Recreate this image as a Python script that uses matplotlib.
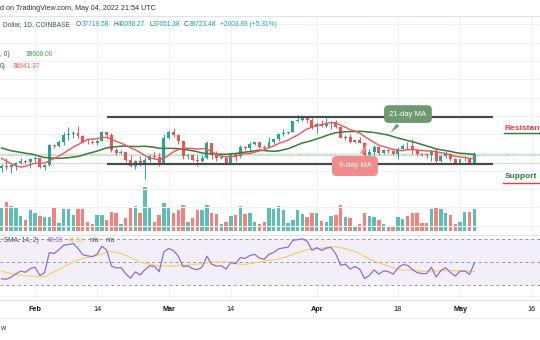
import numpy as np
import pandas as pd
import matplotlib
matplotlib.use("Agg")
import matplotlib.pyplot as plt

plt.rcParams['font.family'] = ['Liberation Sans', 'DejaVu Sans']

# closes Dec 13 .. Jan 24, only used to warm up the moving averages and RSI
warmup_close = [46700, 48340, 48860, 47630, 46130, 46830, 46680, 46880, 48930, 48600,
                50820, 50430, 50800, 50640, 50700, 47540, 46470, 47120, 46220, 47730,
                47310, 46460, 45900, 43570, 43150, 41560, 41730, 41880, 41830, 42740,
                43920, 42590, 43100, 43180, 43110, 42250, 42380, 41700, 40700, 36480,
                35060, 36290, 36690]

# daily candles Jan 25 .. May 4 2022
opens = [36690, 36950, 36820, 37170, 37700, 38150, 37900,
         38480, 38700, 36900, 37330, 41570, 41380, 42400, 43830, 44040, 44370, 43550, 42400, 42200, 42050,
         42550, 44560, 43900, 40550, 40000, 40100, 38400, 37000, 38250, 37300, 38350, 39230, 39100, 37700,
         43190, 44420, 43920, 42450, 39150, 39400, 38420, 38060, 38740, 41980, 39440, 38800, 38900, 37800,
         39670, 39300, 41140, 40950, 41800, 42200, 41280, 41000, 42370, 42900, 43990, 44330, 44520, 46820,
         47130, 47450, 47060,
         45540, 46280, 45810, 46400, 46580, 45500, 43170, 43440, 42250, 42750, 42160, 39530, 40070, 41150,
         39940, 40550, 40400, 39710, 40830, 41500, 41370, 40480, 39710, 39470, 39450, 40430, 38120, 39240,
         39740, 38600,
         37640, 38470, 38520, 37719.58]
highs = [37550, 38900, 37230, 38000, 38700, 38350, 38700,
         39250, 38850, 37400, 41750, 41930, 42650, 44500, 45500, 44800, 45820, 43900, 43050, 42750, 42850,
         44750, 44580, 44200, 40960, 40450, 40150, 39450, 38400, 39250, 38950, 39700, 40250, 39850, 44150,
         44950, 45400, 44100, 42500, 39600, 39650, 39520, 39350, 42600, 42050, 40250, 39350, 39300, 39900,
         39880, 41700, 41460, 42300, 42400, 42300, 41550, 43350, 43000, 44200, 45100, 44800, 46900, 48200,
         48100, 47700, 47600,
         46700, 47200, 47450, 46900, 47150, 45500, 43900, 43950, 42800, 43450, 42400, 40700, 41550, 41500,
         40850, 40700, 40600, 41150, 41750, 42200, 42980, 40800, 39990, 39950, 40600, 40800, 39450, 40350,
         39900, 38800,
         38650, 39150, 38650, 40038.27]
lows = [35700, 36250, 35500, 36200, 37400, 37400, 36650,
        38000, 36600, 36250, 37050, 40970, 41130, 41650, 42700, 43150, 43200, 42000, 41750, 41850, 41550,
        42450, 43330, 40150, 39500, 39650, 38000, 36800, 36380, 37050, 34300, 38000, 38600, 37050, 37450,
        42850, 43350, 41850, 38650, 38600, 38100, 37150, 37880, 38650, 38550, 38250, 38650, 37600, 37600,
        38150, 38900, 40550, 40200, 41550, 40950, 40500, 40900, 41900, 42600, 43650, 44100, 44450, 46650,
        46950, 46550, 45200,
        44250, 45650, 45550, 45150, 45400, 43100, 42750, 42150, 42150, 42000, 39200, 39250, 39550, 39550,
        39760, 40000, 39550, 38550, 40550, 40850, 39750, 39200, 39300, 38900, 38200, 37700, 37900, 38900,
        38200, 37600,
        37400, 38050, 37500, 37651.38]
closes = [36950, 36820, 37170, 37700, 38150, 37900, 38480,
          38700, 36900, 37330, 41570, 41380, 42400, 43830, 44040, 44370, 43550, 42400, 42200, 42050, 42550,
          44560, 43900, 40550, 40000, 40100, 38400, 37000, 38250, 37300, 38350, 39230, 39100, 37700, 43190,
          44420, 43920, 42450, 39150, 39400, 38420, 38060, 38740, 41980, 39440, 38800, 38900, 37800, 39670,
          39300, 41140, 40950, 41800, 42200, 41280, 41000, 42370, 42900, 43990, 44330, 44520, 46820, 47130,
          47450, 47060, 45540,
          46280, 45810, 46400, 46580, 45500, 43170, 43440, 42250, 42750, 42160, 39530, 40070, 41150, 39940,
          40550, 40400, 39710, 40830, 41500, 41370, 40480, 39710, 39470, 39450, 40430, 38120, 39240, 39740,
          38600, 37640,
          38470, 38520, 37719.59, 39723.48]
volumes = [23700, 29300, 25000, 23700, 15000, 11000, 21000, 17700, 15000, 14300,
           14300, 24300, 7700, 21700, 21700, 16000, 21700, 21700, 9300, 7000,
           16000, 16000, 11000, 19300, 18300, 7000, 12700, 23700, 25000, 17700,
           44000, 22700, 9300, 16000, 27700, 24300, 18300, 21000, 26000, 9300,
           12700, 21000, 21000, 26000, 17700, 17000, 6700, 9300, 15000, 16000,
           25000, 17000, 17700, 9300, 7000, 9300, 22700, 21700, 25000, 21000,
           7700, 11000, 21000, 17000, 14300, 18300, 18300, 10300, 9300, 15000,
           16000, 26000, 14300, 12700, 5000, 7000, 18300, 15000, 14300, 11000,
           7000, 5000, 5000, 14300, 11700, 15000, 18300, 17700, 7700, 7700,
           21700, 23700, 21700, 18300, 16000, 7000, 9300, 19300, 19300, 21700]

tick_pos = [7, 20, 35, 48, 66, 83, 96, 111]
tick_labels = ["Feb", "14", "Mar", "14", "Apr", "18", "May", "16"]
months = ["Feb", "Mar", "Apr", "May"]

# channel drawn on the chart (day index, price)
channel_x = [22, 103]
resistance = 47720
support = 37550

UP, DOWN = "#26a69a", "#ef5350"
VUP, VDOWN = "#5dbfb3", "#f6807a"
GRID = "#eef1f6"
TXT = "#4a4e59"

# indicators
allc = pd.Series(warmup_close + closes, dtype=float)
n0 = len(warmup_close)
ma9 = allc.rolling(9).mean().values[n0:]
ma21 = allc.rolling(21).mean().values[n0:]
d = allc.diff()
up = d.clip(lower=0).ewm(alpha=1 / 14, adjust=False).mean()
dn = (-d.clip(upper=0)).ewm(alpha=1 / 14, adjust=False).mean()
rsi = 100 - 100 / (1 + up / dn)
rsi_ma = rsi.rolling(14).mean().values[n0:]
rsi = rsi.values[n0:]

o = np.array(opens); h = np.array(highs); l = np.array(lows); c = np.array(closes)
idx = np.arange(len(c))
rising = c >= o

W, H = 540, 340
fig = plt.figure(figsize=(W / 100, H / 100), dpi=100)
fig.patch.set_facecolor("white")
rend = fig.canvas.get_renderer()


def rect(x0, y0, x1, y1):
    return [x0 / W, 1 - y1 / H, (x1 - x0) / W, (y1 - y0) / H]


def ftxt(x, y, s, **kw):
    return fig.text(x / W, 1 - y / H, s, va="center", ha="left", **kw)


def ftxt_run(x, y, parts, fs):
    # a row of differently coloured pieces, each one starting where the last ended
    for s, color in parts:
        t = ftxt(x, y, s, fontsize=fs, color=color)
        x = t.get_window_extent(rend).x1 + 0.3


px_day = 4.775
xl = (-1.6 / px_day, (W - 1.6) / px_day)

# volume pane (also carries the vertical grid)
axv = fig.add_axes(rect(0, 16, W, 235))
axv.set_xlim(*xl)
axv.set_ylim(-4000, 215000)
for t in tick_pos:
    axv.axvline(t, color=GRID, lw=0.8, zorder=0)
axv.bar(idx, volumes, width=0.72, color=np.where(rising, VUP, VDOWN), zorder=1)
axv.axis("off")

# price pane
ax = fig.add_axes(rect(0, 16, W, 235))
ax.patch.set_alpha(0)
ax.set_xlim(*xl)
ax.set_ylim(21965, 69840)
for p in range(24000, 70000, 4000):
    ax.axhline(p, color=GRID, lw=0.8, zorder=0)

# last price lines
ax.axhline(c[-1], color="#a5d6a7", lw=0.7, ls=(0, (1, 1)), zorder=1)
ax.axhline(c[-1] - 200, color="#c8e6c9", lw=0.7, zorder=1)
ax.axhline(support + 150, color="#c8e6c9", lw=0.7, zorder=1)

col = np.where(rising, UP, DOWN)
ax.vlines(idx, l, h, color=col, lw=0.7, zorder=3)
body_lo = np.minimum(o, c)
body_h = np.maximum(np.abs(c - o), 120)
ax.bar(idx, body_h, bottom=body_lo, width=0.62, color=col, zorder=4)

ax.plot(idx, ma21, color="#3b7a3b", lw=1.1, zorder=5)
ax.plot(idx, ma9, color="#f4525c", lw=1.0, zorder=5)

ax.plot(channel_x, [resistance] * 2, color="#4a4a4a", lw=1.6, zorder=6, solid_capstyle="butt")
ax.plot(channel_x, [support] * 2, color="#4a4a4a", lw=1.6, zorder=6, solid_capstyle="butt")

ax.annotate("21-day MA", xy=(81, ma21[81]), xytext=(85.1, 48400),
            ha="center", va="center", color="white", fontsize=5.5, zorder=8,
            bbox=dict(boxstyle="round,pad=0.7,rounding_size=0.6", fc="#6d9b6f", ec="none"),
            arrowprops=dict(arrowstyle="wedge,tail_width=0.5,shrink_factor=0.5", fc="#6d9b6f", ec="none"))
ax.annotate("9-day MA", xy=(77, ma9[77]), xytext=(74, 37050),
            ha="center", va="center", color="white", fontsize=5.5, zorder=8,
            bbox=dict(boxstyle="round,pad=0.85,rounding_size=0.6", fc="#f28b8d", ec="none"),
            arrowprops=dict(arrowstyle="wedge,tail_width=0.5,shrink_factor=0.5", fc="#f28b8d", ec="none"))

ax.text(105.4, 45150, "Resistance", color="#f23645", fontsize=6, fontweight="bold", va="center", zorder=8)
ax.plot([105.3, 113], [44260] * 2, color="#2e7d32", lw=1.0, zorder=8)
ax.text(105.4, 34650, "Support", color="#2e7d32", fontsize=6, fontweight="bold", va="center", zorder=8)
ax.plot([105.0, 113], [33330] * 2, color="#f23645", lw=1.0, zorder=8)
ax.axis("off")

# RSI pane
axr = fig.add_axes(rect(0, 235, W, 300))
axr.set_xlim(*xl)
axr.set_ylim(16.4, 73.5)
axr.axhspan(30, 70, color="#7e57c2", alpha=0.09, lw=0, zorder=0)
for g in (20, 40, 60):
    axr.axhline(g, color=GRID, lw=0.8, zorder=1)
for t in tick_pos:
    axr.axvline(t, color=GRID, lw=0.8, zorder=1)
for g in (30, 50, 70):
    axr.axhline(g, color="#9598a1", lw=0.7, ls=(0, (3, 3)), zorder=2)
axr.plot(idx, rsi_ma, color="#f2d46b", lw=0.9, zorder=3)
axr.plot(idx, rsi, color="#8e6fd0", lw=0.9, zorder=4)
for s in axr.spines.values():
    s.set_visible(False)
axr.spines["top"].set_visible(True)
axr.spines["top"].set_color("#e0e3eb")
axr.spines["top"].set_linewidth(0.8)
axr.set_yticks([])
axr.set_xticks(tick_pos)
axr.set_xticklabels(tick_labels)
axr.tick_params(axis="x", length=0, pad=4.2, labelsize=5.2, labelcolor="#131722")
for lab in axr.get_xticklabels():
    if lab.get_text() in months:
        lab.set_fontweight("bold")

# frame lines of the chart
fig.add_artist(plt.Line2D([0, 1], [1 - 16 / H] * 2, color="#e0e3eb", lw=0.8))
fig.add_artist(plt.Line2D([0, 1], [1 - 300 / H] * 2, color="#e0e3eb", lw=0.8))
fig.add_artist(plt.Line2D([0, 1], [1 - 318 / H] * 2, color="#eceef2", lw=0.8))

# header and legends
fs = 4.8
ftxt(0, 9, "d on TradingView.com, May 04, 2022 21:54 UTC", fontsize=5.2, color="#333333")
ftxt(3, 25, "Dollar, 1D, COINBASE", fontsize=fs, color=TXT)
for x, k, v in [(76, "O", "37719.58"), (113, "H", "40038.27"), (149, "L", "37651.38"), (184, "C", "39723.48")]:
    ftxt_run(x, 25, [(k, TXT), (v, UP)], fs)
ftxt(220, 25, "+2003.89 (+5.31%)", fontsize=fs, color=UP)

ftxt(0, 55, ", 0)", fontsize=fs, color=TXT)
ftxt(26, 55, "39600.00", fontsize=fs, color="#43a047")
ftxt(0, 66, "0)", fontsize=fs, color=TXT)
ftxt(13, 66, "38641.37", fontsize=fs, color="#f7525f")

ftxt(0, 241, ", SMA, 14, 2)", fontsize=fs, color=TXT)
ftxt(47, 241, "48.63", fontsize=fs, color="#8e6fd0")
ftxt(68, 241, "41.31", fontsize=fs, color="#e8c547")
ftxt(90, 241, "n/a", fontsize=fs, color=TXT)
ftxt(106, 241, "n/a", fontsize=fs, color=TXT)

ftxt(0, 329, "w", fontsize=5.2, color="#333333")

fig.savefig("out.png", dpi=100)
